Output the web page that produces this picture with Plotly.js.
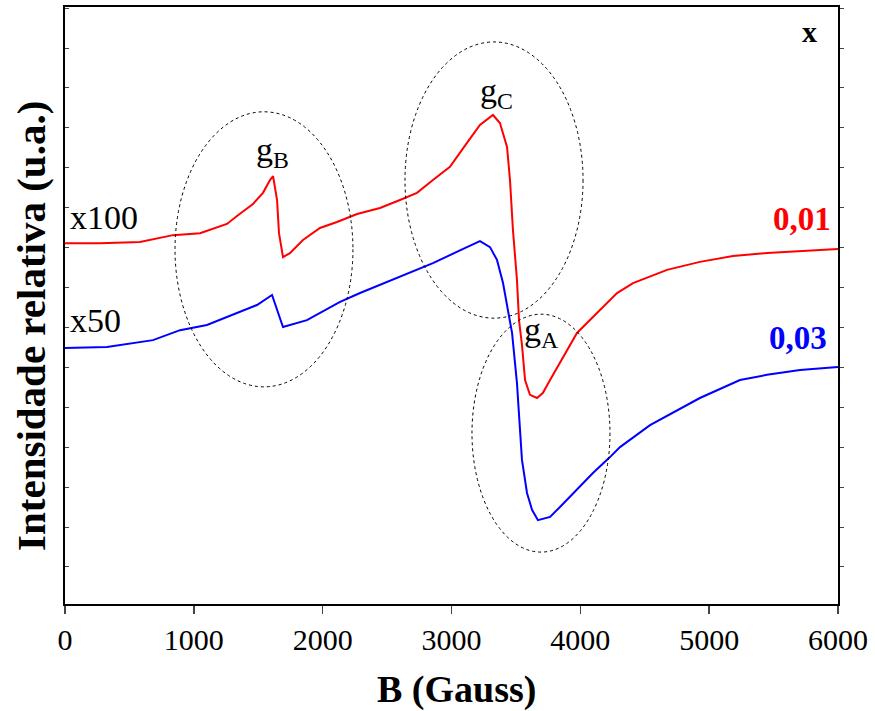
<!DOCTYPE html>
<html>
<head>
<meta charset="utf-8">
<script src="https://cdn.plot.ly/plotly-3.0.1.min.js"></script>
<style>html,body{margin:0;padding:0;background:#fff;}#chart{width:875px;height:711px;}</style>
</head>
<body>
<div id="chart"></div>
<script>
// Magnetic field B (Gauss) and relative intensity (arbitrary units)
const B_x001 = [0, 272, 582, 838, 1048, 1257, 1335, 1459, 1537, 1591, 1615, 1646, 1661, 1692, 1746, 1847, 1979, 2111, 2267, 2445, 2600, 2732, 2856, 2988, 3120, 3221, 3322, 3376, 3431, 3454, 3477, 3508, 3524, 3547, 3571, 3609, 3664, 3710, 3765, 3842, 3974, 4098, 4153, 4230, 4285, 4409, 4673, 4928, 5185, 5449, 5705, 6000];
const I_x001 = [9.04, 9.04, 9.07, 9.24, 9.29, 9.52, 9.72, 10.02, 10.30, 10.62, 10.72, 10.12, 9.29, 8.69, 8.79, 9.12, 9.42, 9.57, 9.77, 9.92, 10.12, 10.30, 10.62, 10.95, 11.55, 12.00, 12.25, 12.05, 11.45, 10.62, 9.37, 8.12, 7.11, 6.49, 5.61, 5.24, 5.16, 5.29, 5.61, 6.04, 6.79, 7.19, 7.37, 7.62, 7.79, 8.04, 8.37, 8.57, 8.72, 8.79, 8.84, 8.89];

const B_x003 = [0, 326, 683, 838, 893, 1102, 1257, 1490, 1607, 1646, 1692, 1878, 2135, 2290, 2600, 2856, 3120, 3221, 3299, 3353, 3400, 3431, 3470, 3508, 3547, 3586, 3625, 3671, 3765, 3842, 3974, 4098, 4230, 4308, 4541, 4735, 4928, 5239, 5449, 5705, 6000];
const I_x003 = [6.41, 6.44, 6.61, 6.79, 6.86, 6.99, 7.19, 7.49, 7.74, 7.37, 6.94, 7.11, 7.57, 7.79, 8.19, 8.54, 8.94, 9.09, 8.94, 8.62, 8.04, 7.49, 6.79, 5.54, 3.61, 2.78, 2.36, 2.10, 2.18, 2.43, 2.86, 3.28, 3.68, 3.93, 4.48, 4.83, 5.16, 5.61, 5.74, 5.86, 5.94];

const seriesNames = ['0,01', '0,03'];
const scaleLabels = ['x100', 'x50'];
const xTickVals = [0, 1000, 2000, 3000, 4000, 5000, 6000];

const serif = 'Liberation Serif, Times New Roman, serif';
const yRange = [0, 14.955];

const traces = [
  {x: B_x001, y: I_x001, type: 'scatter', mode: 'lines', name: seriesNames[0],
   line: {color: '#ff0000', width: 2}},
  {x: B_x003, y: I_x003, type: 'scatter', mode: 'lines', name: seriesNames[1],
   line: {color: '#0000ff', width: 2}},
  {x: [0], y: [0], yaxis: 'y2', type: 'scatter', mode: 'none', showlegend: false, hoverinfo: 'skip'}
];

const ell = (x0, x1, y0, y1) => ({type: 'circle', xref: 'x', yref: 'y', x0, x1, y0, y1,
  line: {color: '#000', width: 1, dash: '3px,3px'}});

const ann = (text, x, y, opts) => Object.assign({text, x, y, xref: 'x', yref: 'y', showarrow: false,
  font: {family: serif, size: 34, color: '#000'}}, opts || {});

const layout = {
  width: 875, height: 711,
  margin: {l: 65, r: 37, t: 7, b: 107},
  paper_bgcolor: '#fff', plot_bgcolor: '#fff',
  showlegend: false,
  font: {family: serif, color: '#000'},
  xaxis: {
    range: [0, 6000], tickvals: xTickVals, ticks: 'outside', ticklen: 8, tickwidth: 1.5,
    showline: true, linewidth: 2, linecolor: '#000', mirror: true, showgrid: false, zeroline: false,
    tickfont: {family: serif, size: 30, color: '#000'},
    title: {text: ''}
  },
  yaxis: {
    range: yRange, tick0: 0.927, dtick: 1, ticks: 'inside', ticklen: 4, tickwidth: 1,
    showticklabels: false, showline: true, linewidth: 2, linecolor: '#000', showgrid: false, zeroline: false,
    title: {text: ''}
  },
  yaxis2: {
    overlaying: 'y', side: 'right', range: yRange, tick0: 0.927, dtick: 1, ticks: 'outside', ticklen: 4,
    tickwidth: 1, showticklabels: false, showline: true, linewidth: 2, linecolor: '#000',
    showgrid: false, zeroline: false
  },
  shapes: [
    ell(854, 2235, 5.44, 12.33),
    ell(2639, 4021, 7.16, 14.08),
    ell(3159, 4230, 1.30, 7.26)
  ],
  annotations: [
    {text: '<b>B (Gauss)</b>', xref: 'paper', yref: 'paper', x: 0.507, y: -0.144, showarrow: false,
     xanchor: 'center', yanchor: 'middle', font: {family: serif, size: 38, color: '#000'}},
    {text: '<b>Intensidade relativa (u.a.)</b>', xref: 'paper', yref: 'paper', x: -0.044, y: 0.4657,
     showarrow: false, textangle: -90, xanchor: 'center', yanchor: 'middle',
     font: {family: serif, size: 41, color: '#000'}},
    ann(scaleLabels[0], 23, 9.69, {xanchor: 'left'}),
    ann(scaleLabels[1], 23, 7.11, {xanchor: 'left'}),
    ann('g<sub>B</sub>', 1607, 11.32),
    ann('g<sub>C</sub>', 3353, 12.80),
    ann('g<sub>A</sub>', 3695, 6.81),
    ann('<b>' + seriesNames[0] + '</b>', 5721, 9.64, {font: {family: serif, size: 33, color: '#ff0000'}}),
    ann('<b>' + seriesNames[1] + '</b>', 5690, 6.66, {font: {family: serif, size: 33, color: '#0000ff'}}),
    ann('<b>x</b>', 5779, 14.35, {font: {family: serif, size: 30, color: '#000'}})
  ]
};

Plotly.newPlot('chart', traces, layout, {displayModeBar: false, staticPlot: true});
</script>
</body>
</html>
